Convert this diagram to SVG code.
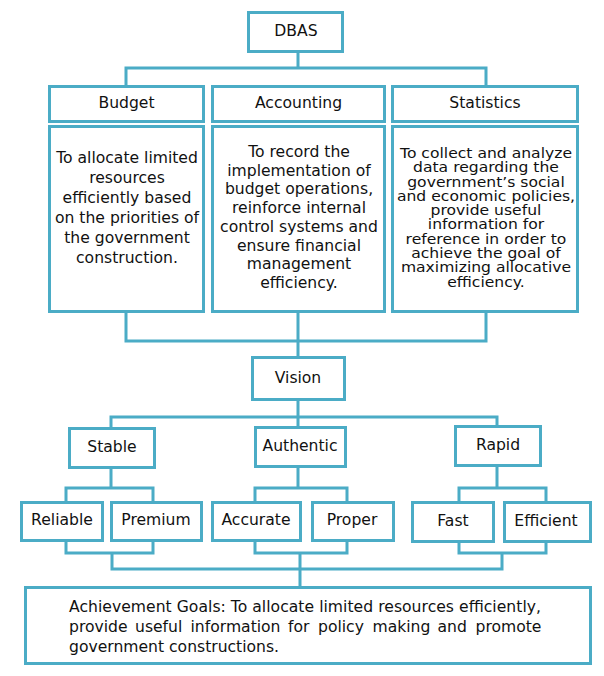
<svg xmlns="http://www.w3.org/2000/svg" width="604" height="676" viewBox="0 0 604 676">
<style>
.b{fill:#fff;stroke:#4bacc6;stroke-width:3}
.c{fill:none;stroke:#4bacc6;stroke-width:3;stroke-linecap:square}
text{font-family:"DejaVu Sans","Noto Sans",sans-serif;font-size:15.6px;fill:#111}
.m{text-anchor:middle}
</style>
<rect width="604" height="676" fill="#fff"/>
<g id="connectors">
<path class="c" d="M298 53V68M126 85V68H486V85"/>
<path class="c" d="M126 313V341H486V313M298 313V357"/>
<path class="c" d="M298 401V417M111 428V417H497V426M298 417V427"/>
<path class="c" d="M111 469V488M66 502V488H153V502"/>
<path class="c" d="M298 468V488M255 502V488H347V502"/>
<path class="c" d="M497 467V488M459 502V488H546V502"/>
<path class="c" d="M66 542V553H153V542M112 553V569H502V553M459 543V553H546V543"/>
<path class="c" d="M255 542V553H347V542M300 553V587"/>
</g>
<g id="dbas"><rect class="b" x="248.5" y="12.5" width="94" height="39"/><text class="m" x="296" y="36">DBAS</text></g>
<g id="budget">
<rect class="b" x="49.5" y="86.5" width="154" height="35"/><text class="m" x="126.5" y="108">Budget</text>
<rect class="b" x="49.5" y="126.5" width="154" height="185"/>
<text class="m" x="127" y="163"><tspan x="127">To allocate limited</tspan><tspan x="127" dy="20">resources</tspan><tspan x="127" dy="20">efficiently based</tspan><tspan x="127" dy="20">on the priorities of</tspan><tspan x="127" dy="20">the government</tspan><tspan x="127" dy="20">construction.</tspan></text>
</g>
<g id="accounting">
<rect class="b" x="212.5" y="86.5" width="172" height="35"/><text class="m" x="298.5" y="108">Accounting</text>
<rect class="b" x="212.5" y="126.5" width="172" height="185"/>
<text class="m" x="299" y="157"><tspan x="299">To record the</tspan><tspan x="299" dy="18.7">implementation of</tspan><tspan x="299" dy="18.7">budget operations,</tspan><tspan x="299" dy="18.7">reinforce internal</tspan><tspan x="299" dy="18.7">control systems and</tspan><tspan x="299" dy="18.7">ensure financial</tspan><tspan x="299" dy="18.7">management</tspan><tspan x="299" dy="18.7">efficiency.</tspan></text>
</g>
<g id="statistics">
<rect class="b" x="392.5" y="86.5" width="185" height="35"/><text class="m" x="485" y="108">Statistics</text>
<rect class="b" x="392.5" y="126.5" width="185" height="185"/>
<g transform="translate(0,158) scale(1,0.85)">
<text class="m" x="486" y="0"><tspan x="486">To collect and analyze</tspan><tspan x="486" dy="16.8">data regarding the</tspan><tspan x="486" dy="16.8">government’s social</tspan><tspan x="486" dy="16.8">and economic policies,</tspan><tspan x="486" dy="16.8">provide useful</tspan><tspan x="486" dy="16.8">information for</tspan><tspan x="486" dy="16.8">reference in order to</tspan><tspan x="486" dy="16.8">achieve the goal of</tspan><tspan x="486" dy="16.8">maximizing allocative</tspan><tspan x="486" dy="16.8">efficiency.</tspan></text>
</g>
</g>
<g id="vision"><rect class="b" x="252.5" y="357.5" width="92" height="42"/><text class="m" x="298" y="383">Vision</text></g>
<g id="stable"><rect class="b" x="69.5" y="428.5" width="85" height="39"/><text class="m" x="112" y="452">Stable</text></g>
<g id="authentic"><rect class="b" x="255.5" y="427.5" width="90" height="39"/><text class="m" x="300" y="451">Authentic</text></g>
<g id="rapid"><rect class="b" x="455.5" y="426.5" width="85" height="39"/><text class="m" x="498" y="450">Rapid</text></g>
<g id="reliable"><rect class="b" x="21.5" y="502.5" width="81" height="38"/><text class="m" x="62" y="525">Reliable</text></g>
<g id="premium"><rect class="b" x="111.5" y="502.5" width="90" height="38"/><text class="m" x="156" y="525">Premium</text></g>
<g id="accurate"><rect class="b" x="212.5" y="502.5" width="88" height="38"/><text class="m" x="256" y="525">Accurate</text></g>
<g id="proper"><rect class="b" x="312.5" y="502.5" width="81" height="38"/><text class="m" x="352" y="525">Proper</text></g>
<g id="fast"><rect class="b" x="412.5" y="502.5" width="81" height="39"/><text class="m" x="453" y="526">Fast</text></g>
<g id="efficient"><rect class="b" x="504.5" y="502.5" width="86" height="39"/><text class="m" x="546" y="526">Efficient</text></g>
<g id="goals"><rect class="b" x="25.5" y="587.5" width="565" height="76"/>
<text x="69" y="612" textLength="472" lengthAdjust="spacing">Achievement Goals: To allocate limited resources efficiently,</text>
<text y="632"><tspan x="69">provide</tspan><tspan x="135">useful</tspan><tspan x="190.5">information</tspan><tspan x="288">for</tspan><tspan x="318">policy</tspan><tspan x="372.5">making</tspan><tspan x="437.5">and</tspan><tspan x="475.5">promote</tspan></text>
<text x="69" y="652">government constructions.</text>
</g>
</svg>
